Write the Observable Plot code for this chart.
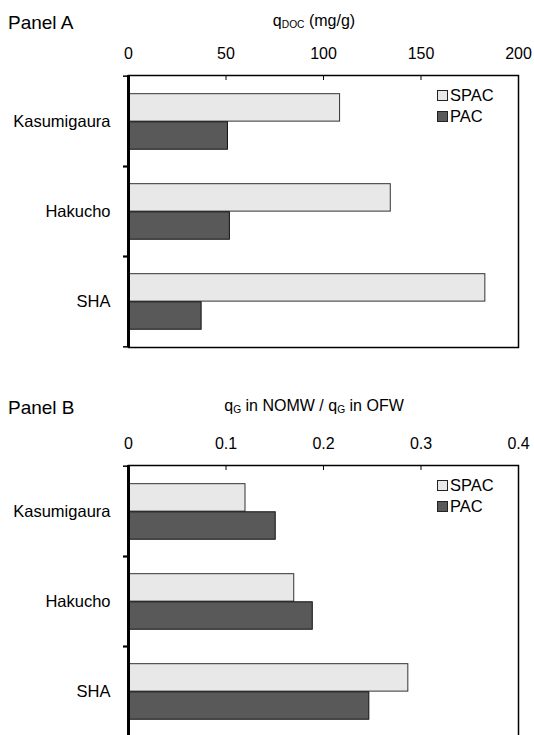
<!DOCTYPE html>
<html>
<head>
<meta charset="utf-8">
<script src="https://cdn.jsdelivr.net/npm/d3@7"></script>
<script src="https://cdn.jsdelivr.net/npm/@observablehq/plot@0.6"></script>
<style>
  html, body { margin: 0; padding: 0; background: #fff; }
  body { font-family: "Liberation Sans", Arial, sans-serif; color: #000; }
  #wrap { position: relative; width: 534px; height: 735px; overflow: hidden; }
  .panel { position: absolute; left: 0; width: 534px; height: 390px; }
  .panel svg { display: block; }
  .lab { position: absolute; white-space: nowrap; line-height: 20px; height: 20px; }
  .plabel { font-size: 19px; left: 8px; }
  .title { font-size: 16px; transform: translateX(-50%); }
  .title sub { font-size: 64%; vertical-align: -0.15em; line-height: 0; }
  .legend { position: absolute; font-size: 16.5px; line-height: 20px; }
  .legend .item { position: absolute; left: 0; height: 20px; white-space: nowrap; }
  .legend .sw { display: inline-block; width: 9px; height: 9px; border: 1px solid #222; margin-right: 2px; vertical-align: 0px; }
</style>
</head>
<body>
<div id="wrap"></div>
<script>
// ---- data ----
const categories = ["Kasumigaura", "Hakucho", "SHA"];
const seriesNames = ["SPAC", "PAC"];
const seriesColors = ["#e8e8e8", "#595959"];

// Panel A: q_DOC (mg/g)
const qdocSPAC = [108.5, 134.5, 183];
const qdocPAC = [51, 52, 37.5];
const ticksA = [0, 50, 100, 150, 200];

// Panel B: q_G in NOMW / q_G in OFW
const ratioSPAC = [0.120, 0.170, 0.287];
const ratioPAC = [0.151, 0.189, 0.247];
const ticksB = [0, 0.1, 0.2, 0.3, 0.4];

// ---- layout ----
const W = 534, H = 390, mL = 128, mR = 16, mT = 75, mB = 43;
const bw = (H - mT - mB) / categories.length;
const gap = 0.195 * bw, barH = 0.31 * bw;
const font = '"Liberation Sans", Arial, sans-serif';

function makePanel(spac, pac, ticks) {
  const rows = categories.flatMap((c, i) => [
    {cat: c, s: seriesNames[0], v: spac[i]},
    {cat: c, s: seriesNames[1], v: pac[i]}
  ]);
  const xDomain = [ticks[0], ticks[ticks.length - 1]];
  return Plot.plot({
    width: W, height: H,
    marginLeft: mL, marginRight: mR, marginTop: mT, marginBottom: mB,
    style: {fontFamily: font, color: "#000", background: "transparent", overflow: "visible"},
    x: {domain: xDomain},
    y: {type: "band", domain: categories, padding: 0},
    marks: [
      Plot.barX(rows.filter(d => d.s === seriesNames[0]), {
        x: "v", y: "cat", fill: seriesColors[0], stroke: "#333", strokeWidth: 1,
        insetTop: gap, insetBottom: bw - gap - barH
      }),
      Plot.barX(rows.filter(d => d.s === seriesNames[1]), {
        x: "v", y: "cat", fill: seriesColors[1], stroke: "#111", strokeWidth: 1,
        insetTop: gap + barH, insetBottom: bw - gap - 2 * barH
      }),
      Plot.frame({stroke: "#000", strokeWidth: 1.5}),
      Plot.ruleX([xDomain[0]], {stroke: "#000", strokeWidth: 3}),
      Plot.axisX({anchor: "top", ticks, tickSize: 0, tickPadding: 17, fontSize: 16,
        tickFormat: d => `${d}`, label: null}),
      Plot.axisX({anchor: "top", ticks: ticks.slice(1, -1), tickSize: -4, text: null, label: null, strokeWidth: 1}),
      Plot.axisY({tickSize: 0, tickPadding: 18, fontSize: 16.5, label: null}),
      Plot.axisY({tickSize: 5, text: null, label: null, dy: -bw / 2, strokeWidth: 1.5}),
      Plot.axisY({tickSize: 5, text: null, label: null, dy: bw / 2, strokeWidth: 1.5})
    ]
  });
}

function addPanel(top, plabel, titleHTML, titleY, plabelY, spac, pac, ticks) {
  const div = document.createElement("div");
  div.className = "panel";
  div.style.top = top + "px";
  div.appendChild(makePanel(spac, pac, ticks));

  const pl = document.createElement("div");
  pl.className = "lab plabel";
  pl.style.top = (plabelY - 10) + "px";
  pl.textContent = plabel;
  div.appendChild(pl);

  const tl = document.createElement("div");
  tl.className = "lab title";
  tl.style.left = "314px";
  tl.style.top = (titleY - 10) + "px";
  tl.innerHTML = titleHTML;
  div.appendChild(tl);

  const lg = document.createElement("div");
  lg.className = "legend";
  lg.style.left = "437px";
  lg.style.top = (mT + 10) + "px";
  seriesNames.forEach((name, i) => {
    const it = document.createElement("div");
    it.className = "item";
    it.style.top = (i * 21) + "px";
    const sw = document.createElement("span");
    sw.className = "sw";
    sw.style.background = seriesColors[i];
    it.appendChild(sw);
    it.appendChild(document.createTextNode(name));
    lg.appendChild(it);
  });
  div.appendChild(lg);
  document.getElementById("wrap").appendChild(div);
}

addPanel(0, "Panel A", "q<sub>DOC</sub> (mg/g)", 21, 23, qdocSPAC, qdocPAC, ticksA);
addPanel(390, "Panel B", "q<sub>G</sub> in NOMW / q<sub>G</sub> in OFW", 15.5, 17.5, ratioSPAC, ratioPAC, ticksB);
</script>
</body>
</html>
